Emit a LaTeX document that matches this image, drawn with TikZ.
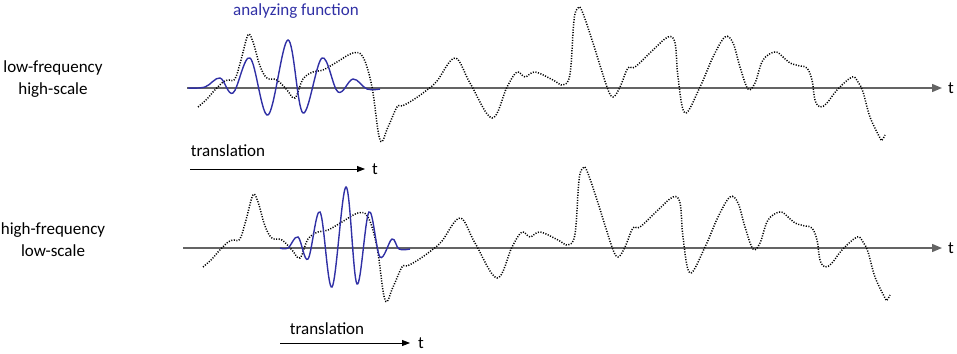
\documentclass[tikz,border=0pt]{standalone}
\usepackage{fontspec}
\setmainfont{Carlito}
\usetikzlibrary{arrows.meta}
\definecolor{wblue}{RGB}{48,48,165}
\definecolor{axgray}{RGB}{100,100,100}
\tikzset{
  lbl/.style={font=\fontsize{17}{22}\selectfont, inner sep=0pt, align=center},
  tlbl/.style={font=\fontsize{17}{20}\selectfont, inner sep=0pt},
  axisline/.style={draw=axgray, line width=1.4pt, -{Triangle[length=10pt,width=8pt]}},
  transline/.style={draw=black, line width=0.8pt, -{Triangle[length=8pt,width=6pt]}},
  signal/.style={draw=black, line width=1.5pt, dash pattern=on 1.1pt off 1.5pt},
  wavelet/.style={draw=wblue, line width=1.4pt},
}
\newcommand{\signalpath}{plot[smooth, tension=0.6] coordinates {
(198,107) (207,99) (213,92) (223,82) (229,80) (235,79) (241,60) (248,35) (253,42) (260,66) (267,78) (277,80) (287,90) (295,98) (303,79) (313,72) (323,70) (337,62) (353,53) (363,57) (372,87) (380,140) (388,127) (397,107) (402,106) (413,100) (427,90) (437,81) (455,58) (470,83) (492,118) (507,87) (517,72) (525,77) (535,72) (553,80) (563,85) (570,74) (574,20) (578,8) (582,11) (593,43) (607,87) (613,97) (620,87) (628,68) (635,67) (653,50) (668,37) (675,43) (678,77) (685,113) (700,87) (713,57) (725,37) (733,43) (740,67) (748,89) (755,83) (763,60) (775,52) (783,57) (790,63) (800,66) (807,68) (812,80) (815,100) (820,107) (827,103) (837,90) (852,77) (858,82) (863,92) (870,117) (880,138) (882,140) (885,135)}}
\begin{document}
\begin{tikzpicture}[x=1pt,y=-1pt]
\useasboundingbox (0,0) rectangle (957,353);
% left labels
\node[lbl] (lab1) at (53,79) {low-frequency\\high-scale};
\node[lbl] (lab2) at (53,240) {high-frequency\\low-scale};
\node[lbl, text=wblue] (af) at (296,11) {analyzing function};
% axes
\coordinate (a1s) at (187,88);
\coordinate (a1e) at (942,88);
\coordinate (a2s) at (183,248);
\coordinate (a2e) at (942,248);
\draw[axisline] (a1s) -- (a1e);
\draw[axisline] (a2s) -- (a2e);
\node[tlbl, anchor=west] (t1) at ([xshift=6pt]a1e) {t};
\node[tlbl, anchor=west] (t2) at ([xshift=6pt]a2e) {t};
% signals
\draw[signal] \signalpath;
\draw[signal, shift={(5,160)}] \signalpath;
% wavelets
\draw[wavelet] plot[smooth, tension=0.6] coordinates {
(188,88) (205,87) (220,78) (233,93) (250,58) (268,115) (288,40) (303,113) (322,58) (338,92) (353,79) (367,89) (380,89)};
\draw[wavelet] plot[smooth, tension=0.6] coordinates {
(280,248) (288,248) (298,237) (308,259) (320,212) (332,287) (346,187) (357,284) (369,212) (380,257) (392,239) (399,249) (410,249)};
% translation arrows
\node[tlbl] (tr1) at (228,151) {translation};
\coordinate (r1s) at (190,169);
\coordinate (r1e) at (365,169);
\draw[transline] (r1s) -- (r1e);
\node[tlbl, anchor=west] (tt1) at ([xshift=7pt]r1e) {t};
\node[tlbl] (tr2) at (327,329) {translation};
\coordinate (r2s) at (280,343);
\coordinate (r2e) at (410,343);
\draw[transline] (r2s) -- (r2e);
\node[tlbl, anchor=west] (tt2) at ([xshift=8pt]r2e) {t};
\end{tikzpicture}
\end{document}
